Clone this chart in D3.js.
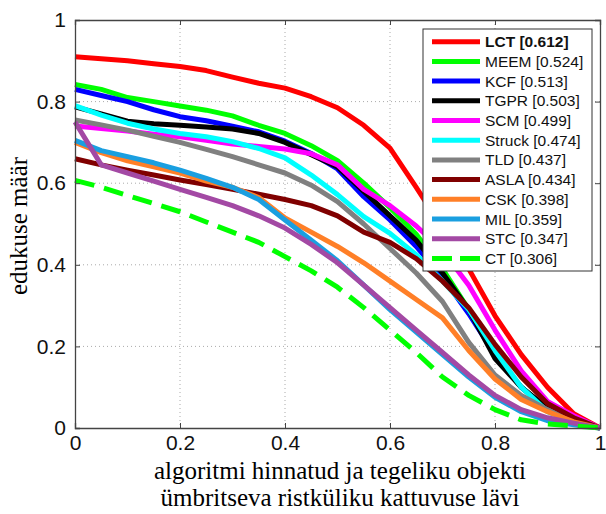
<!DOCTYPE html>
<html>
<head>
<meta charset="utf-8">
<script src="https://cdn.jsdelivr.net/npm/d3@7"></script>
<style>
  body { margin: 0; background: #fff; }
  .tick text { font-family: "Liberation Sans", Arial, sans-serif; }
</style>
</head>
<body>
<div id="chart"></div>
<script>
const w = 606;
const h = 514;
const plotLeft = 75, plotRight = 600, plotTop = 20, plotBottom = 428;

// thresholds 0, 0.05, ... 1
const thresholds = d3.range(0, 21).map(i => i / 20);

const names = ['LCT', 'MEEM', 'KCF', 'TGPR', 'SCM', 'Struck', 'TLD', 'ASLA', 'CSK', 'MIL', 'STC', 'CT'];
const scores = ['0.612', '0.524', '0.513', '0.503', '0.499', '0.474', '0.437', '0.434', '0.398', '0.359', '0.347', '0.306'];
const colors = ['#ff0000', '#00ff00', '#0000ff', '#000000', '#ff00ff', '#00ffff', '#808080', '#800000', '#ff7f27', '#1a9fe0', '#a349a4', '#00ff00'];

const LCT = [0.91, 0.905, 0.90, 0.893, 0.886, 0.876, 0.86, 0.845, 0.833, 0.812, 0.785, 0.742, 0.686, 0.59, 0.49, 0.39, 0.275, 0.18, 0.10, 0.035, 0];
const MEEM = [0.842, 0.83, 0.81, 0.80, 0.789, 0.779, 0.765, 0.742, 0.722, 0.692, 0.655, 0.60, 0.54, 0.475, 0.39, 0.29, 0.18, 0.10, 0.045, 0.015, 0];
const KCF = [0.83, 0.815, 0.80, 0.78, 0.763, 0.753, 0.74, 0.726, 0.703, 0.673, 0.635, 0.567, 0.51, 0.445, 0.37, 0.28, 0.18, 0.10, 0.045, 0.015, 0];
const TGPR = [0.787, 0.77, 0.752, 0.746, 0.742, 0.738, 0.733, 0.722, 0.70, 0.67, 0.64, 0.58, 0.52, 0.46, 0.38, 0.29, 0.17, 0.10, 0.05, 0.02, 0];
const SCM = [0.74, 0.734, 0.728, 0.72, 0.714, 0.705, 0.696, 0.69, 0.684, 0.672, 0.645, 0.585, 0.545, 0.495, 0.435, 0.35, 0.24, 0.14, 0.065, 0.03, 0];
const Struck = [0.79, 0.767, 0.747, 0.733, 0.722, 0.714, 0.702, 0.685, 0.662, 0.62, 0.572, 0.518, 0.477, 0.425, 0.36, 0.29, 0.19, 0.10, 0.04, 0.015, 0];
const TLD = [0.755, 0.743, 0.73, 0.715, 0.70, 0.683, 0.665, 0.645, 0.625, 0.595, 0.555, 0.50, 0.44, 0.38, 0.31, 0.21, 0.13, 0.08, 0.045, 0.015, 0];
const ASLA = [0.66, 0.645, 0.632, 0.62, 0.608, 0.597, 0.585, 0.573, 0.56, 0.545, 0.52, 0.48, 0.455, 0.415, 0.36, 0.295, 0.205, 0.125, 0.06, 0.025, 0];
const CSK = [0.70, 0.675, 0.655, 0.64, 0.625, 0.605, 0.59, 0.565, 0.515, 0.48, 0.445, 0.405, 0.36, 0.315, 0.27, 0.19, 0.12, 0.07, 0.04, 0.015, 0];
const MIL = [0.705, 0.68, 0.665, 0.65, 0.632, 0.612, 0.59, 0.56, 0.51, 0.46, 0.41, 0.35, 0.29, 0.235, 0.18, 0.125, 0.075, 0.04, 0.018, 0.008, 0];
const STC = [0.75, 0.645, 0.625, 0.605, 0.585, 0.565, 0.545, 0.52, 0.49, 0.45, 0.405, 0.35, 0.295, 0.24, 0.185, 0.13, 0.08, 0.045, 0.025, 0.012, 0];
const CT = [0.607, 0.59, 0.57, 0.55, 0.53, 0.505, 0.48, 0.455, 0.42, 0.385, 0.345, 0.295, 0.24, 0.185, 0.125, 0.08, 0.045, 0.02, 0.01, 0.005, 0];

const series = [LCT, MEEM, KCF, TGPR, SCM, Struck, TLD, ASLA, CSK, MIL, STC, CT];
const tickVals = [0, 0.2, 0.4, 0.6, 0.8, 1];
const tickLabels = ['0', '0.2', '0.4', '0.6', '0.8', '1'];

const svg = d3.select('#chart')
    .append('svg')
    .attr('width', w)
    .attr('height', h)
    .style('background-color', '#fff');

const xScale = d3.scaleLinear().domain([0, 1]).range([plotLeft, plotRight]);
const yScale = d3.scaleLinear().domain([0, 1]).range([plotBottom, plotTop]);

// dotted grid
svg.append('g')
    .selectAll('line')
    .data(tickVals.slice(1, 5))
    .enter()
    .append('line')
    .attr('x1', d => xScale(d)).attr('x2', d => xScale(d))
    .attr('y1', plotTop).attr('y2', plotBottom)
    .attr('stroke', '#aaa').attr('stroke-dasharray', '1,3');
svg.append('g')
    .selectAll('line')
    .data(tickVals.slice(1, 5))
    .enter()
    .append('line')
    .attr('y1', d => yScale(d)).attr('y2', d => yScale(d))
    .attr('x1', plotLeft).attr('x2', plotRight)
    .attr('stroke', '#aaa').attr('stroke-dasharray', '1,3');

// curves
const line = d3.line()
    .x((d, i) => xScale(thresholds[i]))
    .y(d => yScale(d));

svg.append('g')
    .selectAll('path')
    .data(series)
    .enter()
    .append('path')
    .attr('d', d => line(d))
    .attr('fill', 'none')
    .attr('stroke', (d, i) => colors[i])
    .attr('stroke-width', 5)
    .attr('stroke-linejoin', 'round')
    .attr('stroke-dasharray', (d, i) => names[i] === 'CT' ? '20,10' : null);

// axes (matlab style: ticks inside, on all sides)
const fmt = d => tickLabels[tickVals.indexOf(d)];
const xAxis = d3.axisBottom(xScale).tickValues(tickVals).tickSize(-5).tickPadding(7).tickFormat(fmt);
const yAxis = d3.axisLeft(yScale).tickValues(tickVals).tickSize(-5).tickPadding(9).tickFormat(fmt);

svg.append('g')
    .attr('transform', 'translate(0,' + plotBottom + ')')
    .call(xAxis)
    .call(g => g.selectAll('text').style('font-size', '21px').attr('fill', '#111'));
svg.append('g')
    .attr('transform', 'translate(' + plotLeft + ',0)')
    .call(yAxis)
    .call(g => g.selectAll('text').style('font-size', '21px').attr('fill', '#111'));
svg.append('g')
    .attr('transform', 'translate(0,' + plotTop + ')')
    .call(d3.axisTop(xScale).tickValues(tickVals).tickSize(-5).tickFormat(''));
svg.append('g')
    .attr('transform', 'translate(' + plotRight + ',0)')
    .call(d3.axisRight(yScale).tickValues(tickVals).tickSize(-5).tickFormat(''));
svg.selectAll('.domain').attr('stroke', '#444').attr('stroke-width', 1.3);
svg.selectAll('.tick line').attr('stroke', '#444');

// axis titles
svg.append('text')
    .attr('transform', 'translate(27,' + ((plotTop + plotBottom) / 2 + 2) + ') rotate(-90)')
    .attr('text-anchor', 'middle')
    .style('font-family', '"Liberation Serif", "Times New Roman", serif')
    .style('font-size', '25px')
    .text('edukuse määr');

svg.append('text')
    .attr('x', 340).attr('y', 479)
    .attr('text-anchor', 'middle')
    .style('font-family', '"Liberation Serif", "Times New Roman", serif')
    .style('font-size', '25px')
    .text('algoritmi hinnatud ja tegeliku objekti');
svg.append('text')
    .attr('x', 340).attr('y', 506)
    .attr('text-anchor', 'middle')
    .style('font-family', '"Liberation Serif", "Times New Roman", serif')
    .style('font-size', '25px')
    .text('ümbritseva ristküliku kattuvuse lävi');

// legend
const lg = svg.append('g');
lg.append('rect')
    .attr('x', 423).attr('y', 29)
    .attr('width', 169).attr('height', 242)
    .attr('fill', '#fff').attr('stroke', '#333').attr('stroke-width', 1);

const rows = lg.selectAll('g.row')
    .data(names)
    .enter()
    .append('g')
    .attr('class', 'row')
    .attr('transform', (d, i) => 'translate(0,' + (41.7 + i * 19.7) + ')');
rows.append('line')
    .attr('x1', 432).attr('x2', 480)
    .attr('stroke', (d, i) => colors[i])
    .attr('stroke-width', 5)
    .attr('stroke-dasharray', d => d === 'CT' ? '20,8' : null);
rows.append('text')
    .attr('x', 485).attr('y', 5.5)
    .style('font-family', '"Liberation Sans", Arial, sans-serif')
    .style('font-size', '15.5px')
    .style('font-weight', d => d === 'LCT' ? 'bold' : 'normal')
    .attr('fill', '#111')
    .text((d, i) => d + ' [' + scores[i] + ']');
</script>
</body>
</html>
